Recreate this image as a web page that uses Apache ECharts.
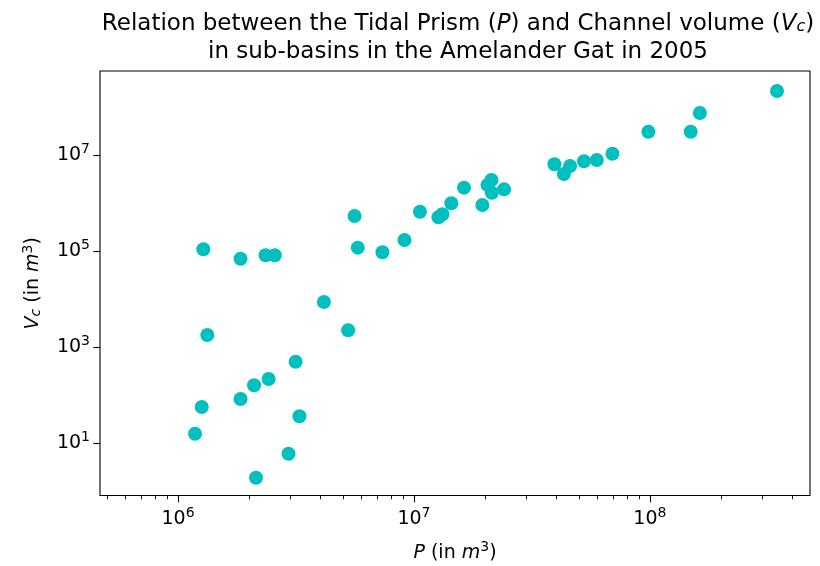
<!DOCTYPE html>
<html>
<head>
<meta charset="utf-8">
<script src="https://cdn.jsdelivr.net/npm/echarts@6/dist/echarts.min.js"></script>
<style>html,body{margin:0;padding:0;background:#fff;}#c{width:820px;height:566px;}</style>
</head>
<body>
<div id="c"></div>
<script>
// Tidal prism P (m^3) and channel volume Vc (m^3) per sub-basin
const prism = [1.28e6, 1.84e6, 2.35e6, 2.57e6, 5.6e6, 5.78e6, 7.35e6, 9.12e6, 1.06e7, 1.27e7,
  1.32e7, 1.44e7, 1.63e7, 1.95e7, 2.05e7, 2.13e7, 2.14e7, 2.41e7, 3.94e7, 4.32e7,
  4.59e7, 5.26e7, 5.96e7, 6.94e7, 9.86e7, 1.49e8, 1.63e8, 3.46e8, 1.33e6, 4.15e6,
  5.26e6, 3.15e6, 2.42e6, 2.1e6, 1.84e6, 1.26e6, 1.18e6, 3.27e6, 2.94e6, 2.14e6];
const channelVolume = [1.09e5, 6.95e4, 8.18e4, 8.18e4, 5.38e5, 1.18e5, 9.44e4, 1.70e5, 6.61e5, 5.05e5,
  5.83e5, 9.9e5, 2.09e6, 9.1e5, 2.38e6, 3.02e6, 1.64e6, 1.93e6, 6.4e6, 4.03e6,
  5.9e6, 7.4e6, 7.87e6, 1.06e7, 3.05e7, 3.05e7, 7.48e7, 2.15e8, 1790, 8730,
  2250, 499, 218, 161, 83.6, 56.9, 15.8, 36.5, 6.08, 1.92];

// tick labels (exponents of 10)
const xTickExp = [6, 7, 8];
const yTickExp = [1, 3, 5, 7];
const xMinorMantissa = [2, 3, 4, 5, 6, 7, 8, 9];
const xMinorDecades = [5, 6, 7, 8];

const xMin = Math.pow(10, 5.669), xMax = Math.pow(10, 8.679);
const yMin = Math.pow(10, -0.086), yMax = Math.pow(10, 8.748);

const xMajor = xTickExp.map(e => Math.pow(10, e));
const yMajor = yTickExp.map(e => Math.pow(10, e));
const xMinor = [];
xMinorDecades.forEach(d => xMinorMantissa.forEach(m => {
  const v = m * Math.pow(10, d);
  if (v > xMin && v < xMax) xMinor.push(v);
}));

const FONT = 'DejaVu Sans';
const powFmt = v => '{b|10}{s|' + Math.round(Math.log10(v)) + '}';
const tickRich = {
  b: {fontSize: 19, fontFamily: FONT, color: '#000'},
  s: {fontSize: 14, fontFamily: FONT, color: '#000', padding: [0, 0, 11, 0]}
};

const chart = echarts.init(document.getElementById('c'), null, {renderer: 'canvas'});
chart.setOption({
  animation: false,
  backgroundColor: '#fff',
  title: {
    text: '{n|Relation between the Tidal Prism (}{i|P}{n|) and Channel volume (}{i|V}{sb|c}{n|)}\n{n|in sub-basins in the Amelander Gat in 2005}',
    left: 453,
    top: 5,
    textAlign: 'center',
    textStyle: {
      fontFamily: FONT,
      fontSize: 23,
      fontWeight: 'normal',
      color: '#000',
      lineHeight: 28,
      rich: {
        n: {fontSize: 23, fontFamily: FONT, color: '#000', lineHeight: 28},
        i: {fontSize: 23, fontFamily: FONT, fontStyle: 'italic', color: '#000', lineHeight: 28},
        sb: {fontSize: 16, fontFamily: FONT, fontStyle: 'italic', color: '#000', padding: [6, 0, 0, 0], lineHeight: 28}
      }
    }
  },
  grid: {left: 100, right: 10, top: 71, bottom: 70.5, outerBoundsMode: 'none', containLabel: false,
    show: true, borderColor: '#000', borderWidth: 1.1, backgroundColor: 'transparent'},
  xAxis: [{
    type: 'log',
    logBase: 10,
    min: xMin,
    max: xMax,
    position: 'bottom',
    splitLine: {show: false},
    axisLine: {show: false},
    axisTick: {show: true, inside: false, length: 6.7, customValues: xMajor, lineStyle: {color: '#000', width: 1.1}},
    axisLabel: {show: true, margin: 11, customValues: xMajor, formatter: powFmt, rich: tickRich},
    name: '{i|P}{n| (in }{i|m}{s|3}{n|)}',
    nameLocation: 'middle',
    nameGap: 45,
    nameTextStyle: {
      rich: {
        n: {fontSize: 19, fontFamily: FONT, color: '#000'},
        i: {fontSize: 19, fontFamily: FONT, fontStyle: 'italic', color: '#000'},
        s: {fontSize: 14, fontFamily: FONT, color: '#000', padding: [0, 0, 11, 0]}
      }
    }
  }, {
    type: 'log',
    logBase: 10,
    min: xMin,
    max: xMax,
    position: 'bottom',
    splitLine: {show: false},
    axisLine: {show: false},
    axisTick: {show: true, length: 3.8, customValues: xMinor, lineStyle: {color: '#000', width: 0.9}},
    axisLabel: {show: false}
  }],
  yAxis: {
    type: 'log',
    logBase: 10,
    min: yMin,
    max: yMax,
    splitLine: {show: false},
    axisLine: {show: false},
    axisTick: {show: true, length: 6.7, customValues: yMajor, lineStyle: {color: '#000', width: 1.1}},
    axisLabel: {show: true, margin: 10, customValues: yMajor, formatter: powFmt, rich: tickRich},
    name: '{i|V}{sb|c}{n| (in }{i|m}{s|3}{n|)}',
    nameLocation: 'middle',
    nameRotate: 90,
    nameGap: 54,
    nameTextStyle: {
      rich: {
        n: {fontSize: 19, fontFamily: FONT, color: '#000'},
        i: {fontSize: 19, fontFamily: FONT, fontStyle: 'italic', color: '#000'},
        sb: {fontSize: 14, fontFamily: FONT, fontStyle: 'italic', color: '#000', padding: [5, 0, 0, 0]},
        s: {fontSize: 14, fontFamily: FONT, color: '#000', padding: [0, 0, 11, 0]}
      }
    }
  },
  series: [{
    type: 'scatter',
    xAxisIndex: 0,
    yAxisIndex: 0,
    symbol: 'circle',
    symbolSize: 14,
    itemStyle: {color: '#00bfbf', opacity: 1},
    data: prism.map((p, i) => [p, channelVolume[i]])
  }]
});
</script>
</body>
</html>
